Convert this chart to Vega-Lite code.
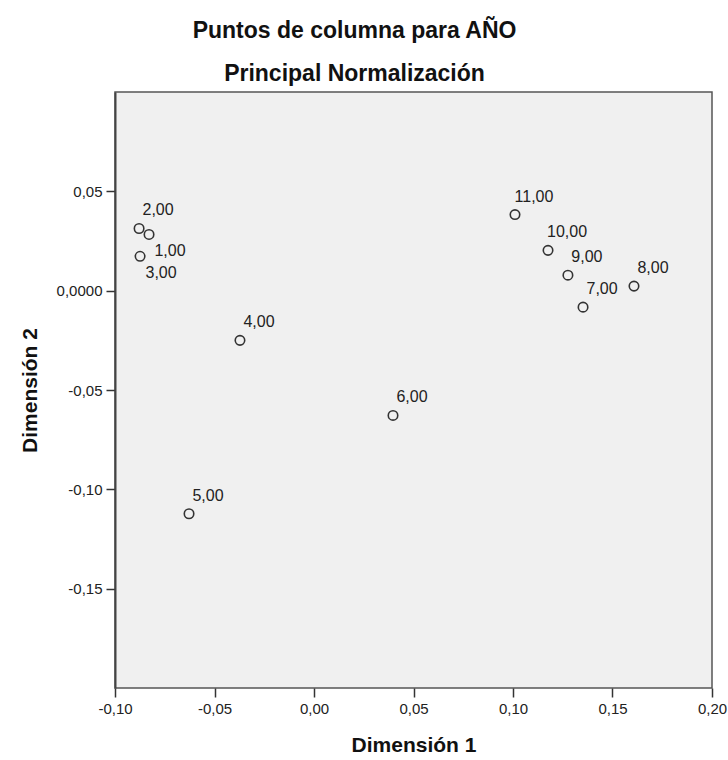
{
  "$schema": "https://vega.github.io/schema/vega-lite/v6.json",
  "autosize": {"type": "none"},
  "width": 597,
  "height": 596,
  "padding": {"left": 115, "top": 92, "right": 16, "bottom": 72},
  "background": "white",
  "title": {
    "text": ["Puntos de columna para AÑO", "Principal Normalización"],
    "anchor": "middle",
    "frame": "group",
    "dx": -59,
    "offset": 6,
    "font": "Liberation Sans",
    "fontSize": 23,
    "fontWeight": "bold",
    "lineHeight": 43,
    "color": "#111"
  },
  "config": {
    "view": {"fill": "#f0f0f0", "stroke": "#555", "strokeWidth": 1.5},
    "axis": {
      "grid": false,
      "labelFont": "Liberation Sans",
      "labelFontSize": 15,
      "labelColor": "#222",
      "labelFlush": false,
      "labelOverlap": false,
      "titleFont": "Liberation Sans",
      "titleFontSize": 21,
      "titleFontWeight": "bold",
      "titleColor": "#111",
      "domainColor": "#444",
      "domainWidth": 2,
      "tickColor": "#333",
      "tickWidth": 1.5,
      "tickSize": 9,
      "labelPadding": 4
    }
  },
  "data": {
    "values": [
      {"label": "1,00", "d1": -0.0829, "d2": 0.0283, "pos": "below"},
      {"label": "2,00", "d1": -0.0879, "d2": 0.0313, "pos": "above"},
      {"label": "3,00", "d1": -0.0874, "d2": 0.0173, "pos": "below"},
      {"label": "4,00", "d1": -0.0372, "d2": -0.025, "pos": "above"},
      {"label": "5,00", "d1": -0.0628, "d2": -0.1123, "pos": "above"},
      {"label": "6,00", "d1": 0.0397, "d2": -0.0628, "pos": "above"},
      {"label": "7,00", "d1": 0.1352, "d2": -0.0083, "pos": "above"},
      {"label": "8,00", "d1": 0.1608, "d2": 0.0023, "pos": "above"},
      {"label": "9,00", "d1": 0.1276, "d2": 0.0078, "pos": "above"},
      {"label": "10,00", "d1": 0.1176, "d2": 0.0203, "pos": "above"},
      {"label": "11,00", "d1": 0.101, "d2": 0.0383, "pos": "above"}
    ]
  },
  "encoding": {
    "x": {
      "field": "d1",
      "type": "quantitative",
      "scale": {"domain": [-0.1, 0.2], "nice": false, "zero": false},
      "axis": {
        "title": "Dimensión 1",
        "values": [-0.1, -0.05, 0, 0.05, 0.1, 0.15, 0.2],
        "labelExpr": "(datum.value < -1e-9 ? '-' : '') + replace(format(abs(datum.value), '.2f'), '.', ',')",
        "titlePadding": 18,
        "domain": false
      }
    },
    "y": {
      "field": "d2",
      "type": "quantitative",
      "scale": {"domain": [-0.2, 0.1], "nice": false, "zero": false},
      "axis": {
        "title": "Dimensión 2",
        "values": [0.05, 0, -0.05, -0.1, -0.15],
        "labelExpr": "abs(datum.value) < 1e-9 ? '0,0000' : (datum.value < 0 ? '-' : '') + replace(format(abs(datum.value), '.2f'), '.', ',')",
        "titlePadding": 16
      }
    }
  },
  "layer": [
    {
      "mark": {"type": "point", "shape": "circle", "filled": false, "size": 90, "stroke": "#333", "strokeWidth": 1.6, "opacity": 1}
    },
    {
      "transform": [{"filter": "datum.pos == 'above'"}],
      "mark": {"type": "text", "align": "center", "baseline": "middle", "dx": 19, "dy": -18, "font": "Liberation Sans", "fontSize": 16, "color": "#222"},
      "encoding": {"text": {"field": "label"}}
    },
    {
      "transform": [{"filter": "datum.pos == 'below'"}],
      "mark": {"type": "text", "align": "center", "baseline": "middle", "dx": 21, "dy": 17, "font": "Liberation Sans", "fontSize": 16, "color": "#222"},
      "encoding": {"text": {"field": "label"}}
    }
  ]
}
